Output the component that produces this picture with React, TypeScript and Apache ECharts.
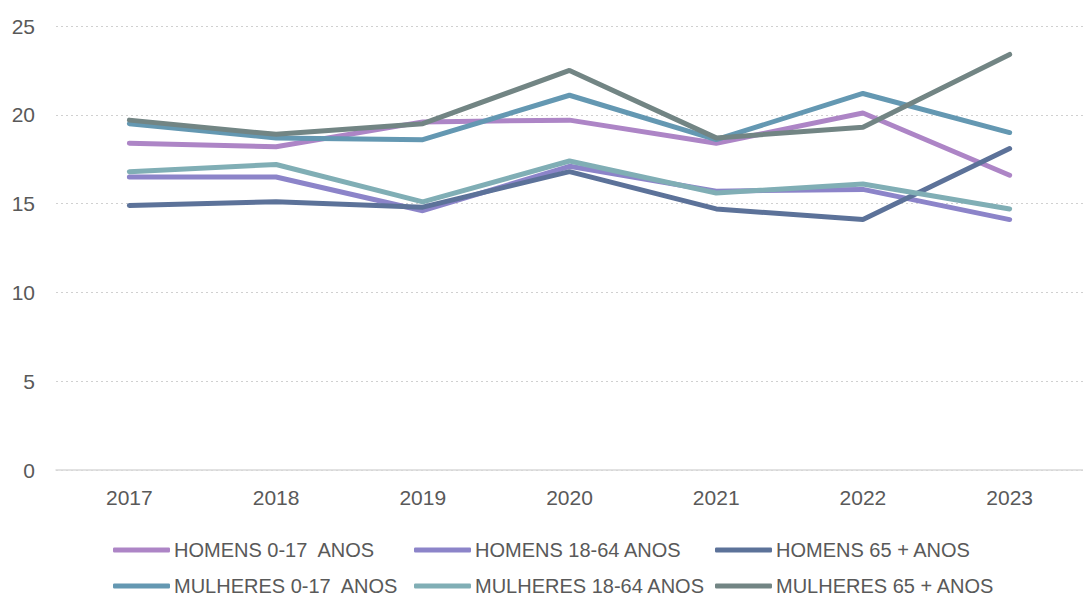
import React, { useEffect, useRef } from "react";
import * as echarts from "echarts";

const years = ["2017", "2018", "2019", "2020", "2021", "2022", "2023"];
const seriesNames = [
  "HOMENS 0-17  ANOS",
  "HOMENS 18-64 ANOS",
  "HOMENS 65 + ANOS",
  "MULHERES 0-17  ANOS",
  "MULHERES 18-64 ANOS",
  "MULHERES 65 + ANOS",
];
const homens017 = [18.4, 18.2, 19.6, 19.7, 18.4, 20.1, 16.6];
const homens1864 = [16.5, 16.5, 14.6, 17.1, 15.7, 15.8, 14.1];
const homens65 = [14.9, 15.1, 14.8, 16.8, 14.7, 14.1, 18.1];
const mulheres017 = [19.5, 18.7, 18.6, 21.1, 18.6, 21.2, 19.0];
const mulheres1864 = [16.8, 17.2, 15.1, 17.4, 15.6, 16.1, 14.7];
const mulheres65 = [19.7, 18.9, 19.5, 22.5, 18.7, 19.3, 23.4];
const colors = ["#AD85C6", "#8C84C9", "#5C7299", "#6498B2", "#80AEB5", "#728584"];

const FONT = "'Liberation Sans', Arial, sans-serif";
const TEXT = "#595959";

export default function App() {
  const ref = useRef<HTMLDivElement>(null);
  useEffect(() => {
    if (!ref.current) return;
    const chart = echarts.init(ref.current, undefined, { renderer: "svg" });
    const values = [homens017, homens1864, homens65, mulheres017, mulheres1864, mulheres65];
    const legends = seriesNames.map((name, i) => ({
      left: 113 + (i % 3) * 301,
      top: i < 3 ? 540 : 576,
      padding: 0,
      itemWidth: 57,
      itemHeight: 5,
      icon: "roundRect",
      data: [name],
      textStyle: { color: TEXT, fontSize: 20, fontFamily: FONT, padding: [0, 0, 0, -1] },
      selectedMode: false,
    }));
    chart.setOption({
      animation: false,
      color: colors,
      grid: { left: 56, right: -13, top: 26, bottom: 128 },
      legend: legends,
      xAxis: {
        type: "category",
        data: years,
        boundaryGap: true,
        axisLine: { show: true, lineStyle: { color: "#d9d9d9", width: 1.5 } },
        axisTick: { show: false },
        axisLabel: { color: TEXT, fontSize: 21, fontFamily: FONT, margin: 17 },
      },
      yAxis: {
        type: "value",
        min: 0,
        max: 25,
        interval: 5,
        axisLine: { show: false },
        axisTick: { show: false },
        axisLabel: { color: TEXT, fontSize: 21, fontFamily: FONT, margin: 21 },
        splitLine: { lineStyle: { color: "#d0d0d0", width: 1.2, type: [2, 3] } },
      },
      series: seriesNames.map((name, i) => ({
        name,
        type: "line",
        data: values[i],
        symbol: "none",
        lineStyle: { width: 5, cap: "round", color: colors[i] },
        itemStyle: { color: colors[i] },
      })),
    });
    return () => chart.dispose();
  }, []);
  return (
    <div
      ref={ref}
      style={{ position: "fixed", left: 0, top: 0, width: 1083, height: 598, background: "#fff" }}
    />
  );
}
